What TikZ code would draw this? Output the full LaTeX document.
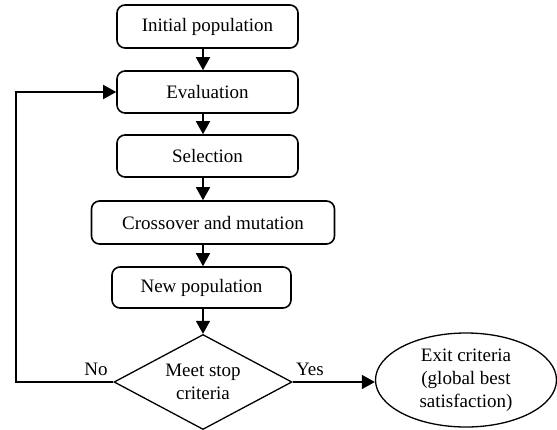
\documentclass[tikz,border=0pt]{standalone}
\usepackage{fontspec}
\setmainfont{Liberation Serif}
\usetikzlibrary{shapes.geometric,arrows.meta}
\begin{document}
\begin{tikzpicture}[x=1pt,y=-1pt,
  every node/.style={font=\fontsize{19}{23}\selectfont},
  stepbox/.style={draw, rounded corners=8pt, line width=1.6pt, inner sep=0pt, align=center},
  arr/.style={line width=1.6pt, -{Triangle[length=13pt,width=14pt]}},
  lbl/.style={inner sep=0pt}]
\useasboundingbox (0,0) rectangle (557,429);
\node[stepbox, minimum width=181pt, minimum height=43pt] (init) at (207.5,26.5) {Initial population};
\node[stepbox, minimum width=181pt, minimum height=42pt] (eval) at (207.5,92) {Evaluation};
\node[stepbox, minimum width=181pt, minimum height=42pt] (sel) at (207.5,156) {Selection};
\node[stepbox, minimum width=243pt, minimum height=43pt] (cross) at (213,222.5) {Crossover and mutation};
\node[stepbox, minimum width=179pt, minimum height=41pt] (newp) at (201.5,287.5) {New population};
\node[draw, diamond, line width=1.3pt, minimum width=178pt, minimum height=95pt, aspect=1.87, inner sep=0pt, align=center] (stop) at (203,382) {Meet stop\\criteria};
\node[draw, ellipse, line width=1.3pt, minimum width=181pt, minimum height=94pt, inner sep=0pt, align=center] (exit) at (466,380) {Exit criteria\\(global best\\satisfaction)};
\coordinate (col) at (203,0);
\coordinate (loop) at (16,382);
\draw[arr] (init.south -| col) -- (eval.north -| col);
\draw[arr] (eval.south -| col) -- (sel.north -| col);
\draw[arr] (sel.south -| col) -- (cross.north -| col);
\draw[arr] (cross.south -| col) -- (newp.north -| col);
\draw[arr] (newp.south -| col) -- (stop.north);
\draw[arr] (stop.east) -- (stop.east -| exit.west);
\draw[arr] (stop.west) -- (loop) |- (eval.west);
\node[lbl] (no) at (96,369) {No};
\node[lbl] (yes) at (310,369) {Yes};
\end{tikzpicture}
\end{document}
